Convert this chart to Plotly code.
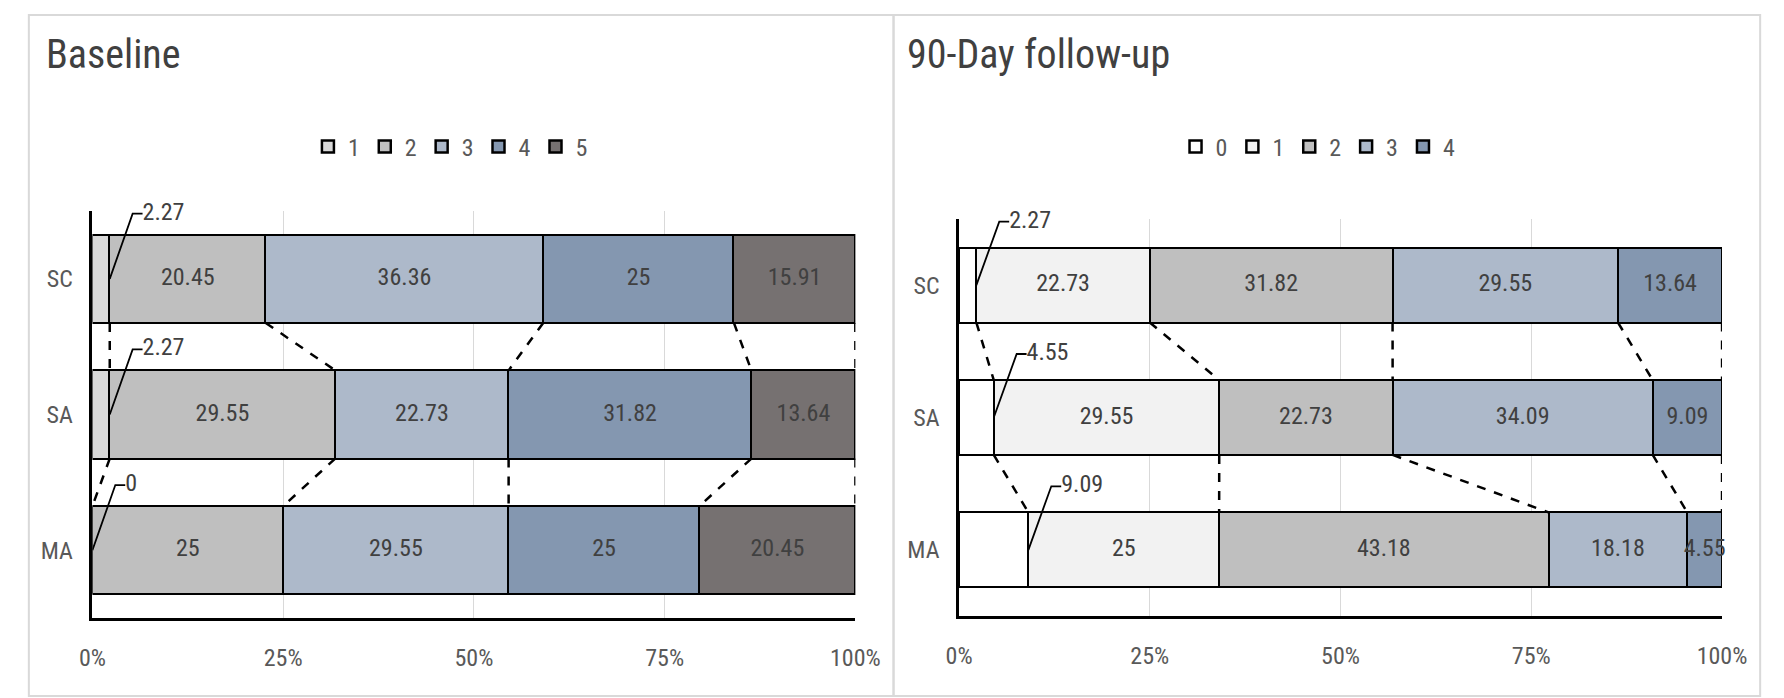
import plotly.graph_objects as go
import numpy as np

W, H = 1784, 698
FONT = "Liberation Sans Narrow, Arial Narrow, Roboto Condensed, Roboto, sans-serif"

# categories, bottom to top
groups = ["MA", "SA", "SC"]

# Baseline (%)
base_levels = ["1", "2", "3", "4", "5"]
base_1 = [0, 2.27, 2.27]
base_2 = [25, 29.55, 20.45]
base_3 = [29.55, 22.73, 36.36]
base_4 = [25, 31.82, 25]
base_5 = [20.45, 13.64, 15.91]

# 90-day follow-up (%)
fu_levels = ["0", "1", "2", "3", "4"]
fu_0 = [9.09, 4.55, 2.27]
fu_1 = [25, 29.55, 22.73]
fu_2 = [43.18, 22.73, 31.82]
fu_3 = [18.18, 34.09, 29.55]
fu_4 = [4.55, 9.09, 13.64]

pct_ticks = [0, 25, 50, 75, 100]
pct_labels = ["0%", "25%", "50%", "75%", "100%"]

base_colors = ["#d9d9d9", "#bfbfbf", "#adb9ca", "#8497b0", "#767171"]
fu_colors = ["#ffffff", "#f2f2f2", "#bfbfbf", "#adb9ca", "#8497b0"]


def add_panel(fig, series, levels, colors, xa, ya, leg, barw):
    ypos = list(range(len(groups)))
    for vals, name, col in zip(series, levels, colors):
        fig.add_trace(go.Bar(
            y=ypos, x=vals, orientation="h", name=name, width=barw,
            marker=dict(color=col, line=dict(color="black", width=2.5)),
            xaxis=xa, yaxis=ya, legend=leg, hoverinfo="skip"))

    cum = np.cumsum(np.array(series), axis=0)

    # value labels centred in each segment (first level gets a callout)
    tx, ty, tt = [], [], []
    for k in range(1, len(levels)):
        for i in ypos:
            tx.append(cum[k, i] - series[k][i] / 2)
            ty.append(i)
            tt.append(f"{series[k][i]:g}")
    fig.add_trace(go.Scatter(x=tx, y=ty, text=tt, mode="text", cliponaxis=False,
                             textfont=dict(size=24, color="#404040", family=FONT),
                             showlegend=False, xaxis=xa, yaxis=ya,
                             hoverinfo="skip"))

    # dashed series lines between neighbouring bars
    h = barw / 2
    lx, ly = [], []
    for i in range(len(groups) - 1):
        for k in range(len(levels)):
            lx += [cum[k, i + 1], cum[k, i], None]
            ly += [i + 1 - h, i + h, None]
    fig.add_trace(go.Scatter(x=lx, y=ly, mode="lines", showlegend=False,
                             line=dict(color="black", width=2.5, dash="dash"),
                             xaxis=xa, yaxis=ya, hoverinfo="skip"))

    # callout labels for the thin first segment
    for i, v in enumerate(series[0]):
        fig.add_trace(go.Scatter(
            x=[v, v + 3.0, v + 4.3], y=[i, i + 0.48, i + 0.48],
            mode="lines+text", text=["", "", f"{v:g}"],
            textposition="middle right", cliponaxis=False,
            textfont=dict(size=24, color="#404040", family=FONT),
            line=dict(color="black", width=1.8), showlegend=False,
            xaxis=xa, yaxis=ya, hoverinfo="skip"))


fig = go.Figure()
add_panel(fig, [base_1, base_2, base_3, base_4, base_5], base_levels,
          base_colors, "x", "y", "legend", 0.65)
add_panel(fig, [fu_0, fu_1, fu_2, fu_3, fu_4], fu_levels,
          fu_colors, "x2", "y2", "legend2", 0.565)

xcommon = dict(range=[0, 100], tickvals=pct_ticks, ticktext=pct_labels,
               showgrid=True, gridcolor="#d9d9d9", gridwidth=1,
               showline=True, linecolor="black", linewidth=2.5, zeroline=False,
               ticks="", ticklabelstandoff=16,
               tickfont=dict(size=24, color="#595959", family=FONT))
ycommon = dict(range=[-0.5, 2.5], tickvals=[0, 1, 2], ticktext=groups,
               showline=True, linecolor="black", linewidth=2.5, showgrid=False,
               zeroline=False, ticks="", ticklabelstandoff=12,
               tickfont=dict(size=24, color="#595959", family=FONT))
legcommon = dict(orientation="h", xanchor="center", yanchor="middle",
                 traceorder="normal", itemwidth=30,
                 font=dict(size=24, color="#595959", family=FONT),
                 bgcolor="rgba(0,0,0,0)")

fig.update_layout(
    width=W, height=H, autosize=False,
    margin=dict(l=0, r=0, t=0, b=0),
    paper_bgcolor="white", plot_bgcolor="white",
    barmode="stack", bargap=0,
    xaxis=dict(domain=[72 / W, 852 / W], anchor="y", **xcommon),
    yaxis=dict(domain=[1 - 610 / H, 1 - 203 / H], anchor="x", **ycommon),
    xaxis2=dict(domain=[958 / W, 1738 / W], anchor="y2", **xcommon),
    yaxis2=dict(domain=[1 - 608 / H, 1 - 211 / H], anchor="x2", **ycommon),
    legend=dict(x=438 / W, y=1 - 139 / H, **legcommon),
    legend2=dict(x=1325 / W, y=1 - 139 / H, **legcommon),
    annotations=[
        dict(text="Baseline", x=22 / W, y=1 - 47 / H, xref="paper", yref="paper",
             xanchor="left", yanchor="middle", showarrow=False,
             font=dict(size=40, color="#404040", family=FONT)),
        dict(text="90-Day follow-up", x=903 / W, y=1 - 47 / H, xref="paper",
             yref="paper", xanchor="left", yanchor="middle", showarrow=False,
             font=dict(size=40, color="#404040", family=FONT)),
    ],
    shapes=[
        dict(type="rect", xref="paper", yref="paper", x0=7 / W, x1=891 / W,
             y0=1 - 688 / H, y1=1 - 7 / H, line=dict(color="#d9d9d9", width=2)),
        dict(type="rect", xref="paper", yref="paper", x0=891 / W, x1=1777 / W,
             y0=1 - 688 / H, y1=1 - 7 / H, line=dict(color="#d9d9d9", width=2)),
    ],
)

fig.write_html("out.html")
